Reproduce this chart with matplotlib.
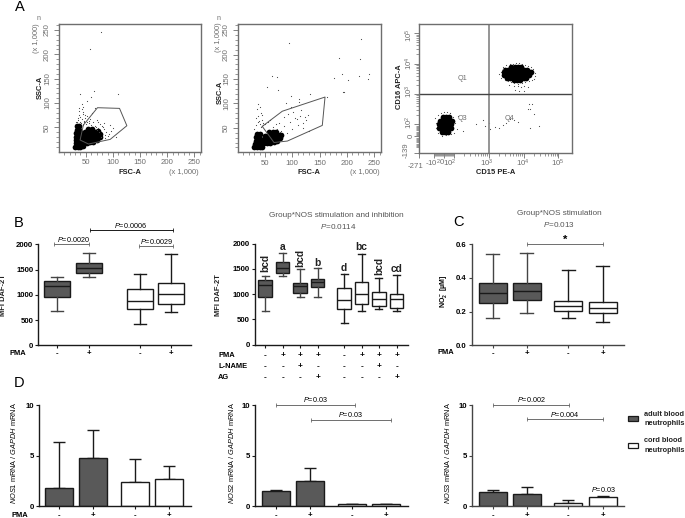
#!/usr/bin/env python3
"""Neutrophil figure: flow plots (A), DAF-2T box plots (B), nitrite (C), NOS mRNA (D)."""

import matplotlib
matplotlib.use('Agg')
import matplotlib.pyplot as plt
from matplotlib.lines import Line2D
from matplotlib.patches import Rectangle

plt.rcParams['font.family'] = ['Liberation Sans', 'DejaVu Sans']
plt.rcParams['mathtext.fontset'] = 'custom'
plt.rcParams['mathtext.rm'] = 'Liberation Sans'
plt.rcParams['mathtext.it'] = 'Liberation Sans:italic'
plt.rcParams['mathtext.bf'] = 'Liberation Sans:bold'

W, H = 685, 518

# --- flow cytometry, panel A ---
a1_core_x = [30, 35, 40, 45, 31, 36, 41, 31, 36, 41, 31, 36, 41, 32, 37, 42, 33, 38, 34, 38,
             46, 52, 58, 64, 70, 46, 52, 58, 64, 70, 76, 47, 53, 59, 65, 71, 76, 48, 54, 60, 66, 72, 54, 61]
a1_core_y = [10, 10, 10, 11, 17, 17, 17, 24, 24, 24, 31, 31, 31, 38, 38, 38, 45, 45, 52, 53,
             20, 18, 19, 20, 24, 27, 26, 26, 27, 30, 30, 34, 34, 34, 34, 36, 36, 41, 41, 41, 41, 42, 46, 46]
a1_dots_x = [32, 36, 40, 44, 38, 42, 46, 34, 48, 37, 41, 45, 50, 52, 56, 60, 64, 68, 72, 76, 80, 84, 88, 92, 96,
             70, 75, 82, 90, 78, 85, 95, 100, 105, 52, 58, 62, 66, 44, 47, 38, 42, 78, 65, 53, 110, 40, 60, 58,
             35, 39, 43, 49, 55, 67, 73, 86, 83, 71]
a1_dots_y = [60, 66, 72, 78, 84, 88, 64, 62, 70, 90, 58, 82, 56, 62, 58, 54, 60, 50, 48, 56, 52, 46, 40, 36, 42,
             66, 40, 50, 32, 30, 28, 55, 48, 30, 74, 68, 80, 90, 92, 60, 75, 98, 245, 125, 105, 118, 118, 112, 210,
             70, 62, 68, 75, 64, 52, 62, 35, 58, 44]
a1_gate_x = [45.5, 71.4, 112, 125.5, 94.8, 54.8, 39.4]
a1_gate_y = [54.8, 90.4, 89, 53.4, 25.3, 15.8, 24]

a2_core_x = [30, 35, 40, 45, 32, 37, 42, 33, 38, 43, 34, 39, 36, 41,
             48, 54, 60, 66, 72, 48, 54, 60, 66, 72, 78, 50, 56, 62, 68, 74, 80, 58, 64, 70]
a2_core_y = [10, 10, 10, 11, 17, 17, 17, 24, 24, 24, 31, 31, 38, 38,
             20, 19, 20, 21, 23, 27, 27, 27, 27, 28, 30, 34, 34, 34, 34, 35, 36, 41, 41, 42]
a2_dots_x = [30, 33, 37, 41, 45, 34, 38, 42, 46, 36, 40, 44, 39, 43, 47, 37, 50, 55, 60, 65, 70, 75,
             80, 85, 90, 95, 100, 105, 110, 115, 120, 125, 130, 84, 92, 101, 108, 116, 123, 119, 88, 97, 112, 128, 72, 78,
             94, 186, 191, 63, 72, 54, 74, 203, 176, 193, 133, 97, 112, 164, 226, 224, 222, 240, 238, 194]
a2_dots_y = [48, 55, 62, 58, 66, 70, 74, 80, 60, 88, 92, 76, 64, 52, 56, 98, 58, 62, 66, 52, 58, 60,
             44, 54, 40, 62, 48, 70, 56, 74, 60, 66, 44, 72, 78, 82, 68, 86, 72, 50, 100, 92, 102, 76, 48, 42,
             224, 192, 161, 157, 153, 133, 128, 147, 152, 124, 120, 115, 108, 113, 231, 191, 156, 161, 150, 124]
a2_gate_x = [45, 81.7, 160, 155, 91, 66.5]
a2_gate_y = [53, 84, 113, 55, 23, 20]

a3_core_x = [4500, 5600, 7000, 8500,
             3000, 3700, 4500, 5600, 7000, 8500, 10500, 12500,
             2700, 3300, 4000, 5000, 6200, 7700, 9500, 11500, 14000, 16000,
             2800, 3500, 4300, 5300, 6500, 8000, 10000, 12000, 14500,
             3400, 4200, 5200, 6400, 8000, 10000, 12000,
             5200, 6400, 8000,
             -10, 20, 50, -40, -10, 20, 50, 80, -50, -20, 10, 40, 70, -50, -20, 10, 40, 70, -20, 10, 40]
a3_core_y = [7800, 7800, 7800, 7800,
             6400, 6400, 6400, 6400, 6400, 6400, 6400, 6400,
             5200, 5200, 5200, 5200, 5200, 5200, 5200, 5200, 5200, 5200,
             4200, 4200, 4200, 4200, 4200, 4200, 4200, 4200, 4200,
             3400, 3400, 3400, 3400, 3400, 3400, 3400,
             2800, 2800, 2800,
             170, 170, 170, 130, 130, 130, 130, 130, 100, 100, 100, 100, 100, 70, 70, 70, 70, 70, 40, 40, 40]
a3_dots_x = [2000, 2200, 2500, 2300, 2600, 3200, 4000, 5000, 6000, 7200, 8800, 11000, 13000, 16000, 19000, 21000,
             22000, 20000, 17000, 14000, 11000, 9000, 7000, 5500, 4500, 3500, 2900, 3800, 5200, 6800, 8200, 10500, 13500,
             7500, 5800, 10000, 14000, 15000,
             -90, -80, -60, -30, 0, 30, 60, 95, 110, 125, 100, 70, 20, -20, -60, -85, 130, 60,
             420, 700, 800, 1000, 1100, 1500, 2000, 2500, 3200, 4200, 5200, 7000, 13000, 17000, 20000, 28000, 15000, 180]
a3_dots_y = [4400, 5500, 6800, 3400, 8000, 8800, 9500, 10000, 10200, 10100, 9600, 8900, 8500, 7500, 6500, 5000,
             3900, 3100, 2900, 2600, 2400, 2300, 2200, 2300, 2500, 2700, 3000, 2000, 1900, 1800, 1700, 1800, 1700,
             1300, 1400, 1250, 460, 320,
             160, 70, 210, 240, 260, 250, 230, 170, 110, 60, 30, 20, 10, 5, 25, 110, 190, 230,
             100, 140, 90, 110, 60, 80, 70, 95, 110, 150, 140, 120, 330, 480, 220, 90, 70, 45]

# --- DAF-2T, panel B ---
b1_low = [673, 1353, 429, 667]
b1_q1 = [950, 1426, 713, 825]
b1_med = [1181, 1525, 884, 1010]
b1_q3 = [1274, 1630, 1122, 1228]
b1_high = [1353, 1822, 1406, 1808]

b2_low = [673, 1353, 937, 950, 429, 667, 713, 660]
b2_q1 = [950, 1426, 1030, 1142, 713, 799, 772, 733]
b2_med = [1181, 1525, 1162, 1247, 884, 997, 911, 898]
b2_q3 = [1274, 1630, 1221, 1307, 1122, 1234, 1043, 1003]
b2_high = [1353, 1822, 1498, 1525, 1406, 1802, 1313, 1386]
b2_letters = ['bcd', 'a', 'bcd', 'b', 'd', 'bc', 'bcd', 'cd']
b2_pma = ['-', '+', '+', '+', '-', '+', '+', '+']
b2_lname = ['-', '-', '+', '-', '-', '-', '+', '-']
b2_ag = ['-', '-', '-', '+', '-', '-', '-', '+']

# --- nitrite, panel C ---
c_low = [0.16, 0.19, 0.16, 0.14]
c_q1 = [0.25, 0.27, 0.205, 0.19]
c_med = [0.31, 0.32, 0.235, 0.22]
c_q3 = [0.37, 0.37, 0.265, 0.26]
c_high = [0.54, 0.55, 0.45, 0.47]

# --- mRNA, panel D ---
d1_mean = [1.78, 4.77, 2.43, 2.7]
d1_upper = [6.38, 7.53, 4.64, 3.98]
d2_mean = [1.55, 2.47, 0.2, 0.23]
d2_upper = [1.6, 3.82, 0.2, 0.23]
d3_mean = [1.38, 1.22, 0.36, 0.89]
d3_upper = [1.58, 1.91, 0.59, 1.05]
pma_signs = ['-', '+', '-', '+']

ADULT = '#595959'
CORD = 'white'
EDGE = '#1a1a1a'
GREY = '#6e6e6e'

fig = plt.figure(figsize=(W / 100, H / 100), dpi=100)


def ax_px(left, top, right, bottom):
    return fig.add_axes([left / W, 1 - bottom / H, (right - left) / W, (bottom - top) / H])


def txt(x, y, s, size=5.5, **kw):
    kw.setdefault('ha', 'center')
    kw.setdefault('va', 'center')
    return fig.text(x / W, 1 - y / H, s, fontsize=size, **kw)


def bracket(x0, x1, y, color=EDGE):
    fig.add_artist(Line2D([x0 / W, x1 / W], [1 - y / H] * 2, color=color, lw=0.7,
                          marker='|', ms=2.5, mew=0.6))


def flow_axes(left, right, bottom):
    ax = ax_px(left, 23.7, right, bottom)
    for s in ax.spines.values():
        s.set_color(GREY)
        s.set_linewidth(1.0)
    ax.tick_params(which='major', length=3.5, width=0.6, color=GREY, labelcolor=GREY, labelsize=5.6, pad=2)
    ax.tick_params(which='minor', length=2, width=0.5, color=GREY)
    return ax


def scatter_linear(left, right, bottom, core_x, core_y, dots_x, dots_y, gate_x, gate_y):
    ax = flow_axes(left, right, bottom)
    ax.scatter(core_x, core_y, s=17, c='black', linewidths=0)
    ax.scatter(dots_x, dots_y, s=0.7, c='#444444', linewidths=0)
    ax.plot(gate_x + gate_x[:1], gate_y + gate_y[:1], color='#555555', lw=0.7)
    ax.set_xlim(0, 262)
    ax.set_ylim(0, 263)
    ticks = [50, 100, 150, 200, 250]
    ax.set_xticks(ticks)
    ax.set_yticks(ticks)
    ax.set_xticks(range(10, 261, 10), minor=True)
    ax.set_yticks(range(10, 261, 10), minor=True)
    plt.setp(ax.get_yticklabels(), rotation=90, va='center')
    return ax


scatter_linear(58.7, 201, 151.7, a1_core_x, a1_core_y, a1_dots_x, a1_dots_y, a1_gate_x, a1_gate_y)
scatter_linear(237.7, 380.7, 152.3, a2_core_x, a2_core_y, a2_dots_x, a2_dots_y, a2_gate_x, a2_gate_y)

# biexponential-looking axes for the CD15/CD16 plot
ax3 = flow_axes(419.3, 572.3, 152.7)
ax3.set_xscale('symlog', linthresh=100, linscale=0.25)
ax3.set_yscale('symlog', linthresh=100, linscale=0.353)
ax3.scatter(a3_core_x, a3_core_y, s=17, c='black', linewidths=0)
ax3.scatter(a3_dots_x, a3_dots_y, s=0.7, c='#444444', linewidths=0)
ax3.axvline(1000, color='#8c8c8c', lw=1.3)
ax3.axhline(1000, color='#444444', lw=1.0)
ax3.set_xlim(-271, 2.5e5)
ax3.set_ylim(-139, 2.05e5)
ax3.set_xticks([-271, -100, 0, 100, 1000, 10000, 100000], labels=[])
ax3.set_yticks([-139, 0, 100, 1000, 10000, 100000], labels=[])
lin_minor = [v for v in range(-90, 100, 10) if v != 0]
log_minor = [m * d for d in (100, 1000, 10000) for m in range(2, 10)]
ax3.set_xticks(lin_minor + log_minor, minor=True, labels=[])
ax3.set_yticks(lin_minor + log_minor, minor=True, labels=[])

for x, y, s in [(415.5, 167, '-271'), (432.5, 163, r'-$10^2$'), (441.5, 163, '0'), (450, 163, r'$10^2$'),
                (486.7, 163, r'$10^3$'), (523, 163, r'$10^4$'), (557.3, 163, r'$10^5$')]:
    txt(x, y, s, size=5.6, color=GREY)
for x, y, s in [(409, 35, r'$10^5$'), (409, 63, r'$10^4$'), (409, 91.7, r'$10^3$'), (409, 122.7, r'$10^2$'),
                (411, 136, '0'), (405.7, 150, '-139')]:
    txt(x, y, s, size=5.6, color=GREY, rotation=90)
for x, y, s in [(462, 78, 'Q1'), (462.7, 118, 'Q3'), (509, 118, 'Q4')]:
    txt(x, y, s, size=5.2, color=GREY)

txt(40, 87, 'SSC-A', size=5.4, weight='bold', rotation=90, color='#222222')
txt(220.7, 92, 'SSC-A', size=5.4, weight='bold', rotation=90, color='#222222')
txt(129.7, 173, 'FSC-A', size=5.4, weight='bold', color='#222222')
txt(308.7, 172, 'FSC-A', size=5.4, weight='bold', color='#222222')
txt(400, 87, 'CD16 APC-A', size=5.4, weight='bold', rotation=90, color='#222222')
txt(495.7, 172, 'CD15 PE-A', size=5.4, weight='bold', color='#222222')
txt(184, 173, '(x 1,000)', size=5.4, color=GREY)
txt(365, 173, '(x 1,000)', size=5.4, color=GREY)
txt(36.7, 38, '(x 1,000)', size=5.4, color=GREY, rotation=90)
txt(218, 37, '(x 1,000)', size=5.4, color=GREY, rotation=90)
txt(38.5, 18.5, 'n', size=5, color=GREY)
txt(219, 19, 'n', size=5, color=GREY)


def plain_axes(left, top, right, bottom, ymax, yticks, ylabels, centres, spine=EDGE):
    ax = ax_px(left, top, right, bottom)
    ax.spines['top'].set_visible(False)
    ax.spines['right'].set_visible(False)
    for s in ('left', 'bottom'):
        ax.spines[s].set_linewidth(1.0)
        ax.spines[s].set_color(spine)
    ax.set_xlim(0, right - left)
    ax.set_ylim(0, ymax)
    ax.set_xticks([c - left for c in centres], labels=[])
    ax.set_yticks(yticks, labels=ylabels)
    ax.tick_params(length=2.4, width=0.8, color=spine, labelsize=5.6, pad=1.2)
    for lab in ax.get_yticklabels():
        lab.set_fontweight('bold')
    return ax


def box_panel(ax, left, centres, width, cap, low, q1, med, q3, high, n_adult):
    stats = [dict(whislo=a, q1=b, med=c, q3=d, whishi=e, fliers=[])
             for a, b, c, d, e in zip(low, q1, med, q3, high)]
    pos = [c - left for c in centres]
    parts = ax.bxp(stats, positions=pos, widths=width, capwidths=cap, showfliers=False, patch_artist=True,
                   manage_ticks=False,
                   boxprops=dict(linewidth=1.0, edgecolor=EDGE),
                   medianprops=dict(linewidth=1.0, color=EDGE),
                   whiskerprops=dict(linewidth=1.0, color=EDGE),
                   capprops=dict(linewidth=1.0, color=EDGE))
    for i, box in enumerate(parts['boxes']):
        box.set_facecolor(ADULT if i < n_adult else CORD)
    for key in ('whiskers', 'caps'):
        for i, line in enumerate(parts[key]):
            line.set_color('#444444' if i < 2 * n_adult else EDGE)


def bar_panel(ax, left, centres, mean, upper, n_adult=2):
    pos = [c - left for c in centres]
    colors = [ADULT] * n_adult + [CORD] * (len(mean) - n_adult)
    lo = [0] * len(mean)
    hi = [u - m for u, m in zip(upper, mean)]
    ax.errorbar(pos, mean, yerr=[lo, hi], fmt='none', ecolor=EDGE, elinewidth=1.0, capsize=4.3, capthick=1.0, zorder=1)
    ax.bar(pos, mean, width=28, color=colors, edgecolor=EDGE, linewidth=1.0, zorder=2)


# panel B, left
b1_pos = [57.3, 88.7, 139.7, 171]
ax = plain_axes(38.3, 244.3, 190.7, 345.3, 2000, [0, 500, 1000, 1500, 2000], ['0', '500', '1000', '1500', '2000'], b1_pos)
box_panel(ax, 38.3, b1_pos, 26, 12, b1_low, b1_q1, b1_med, b1_q3, b1_high, 2)
txt(3.8, 295, 'MFI DAF-2T', size=5.4, rotation=90, weight='bold', color='#222222')
bracket(54.3, 88.7, 244, color=GREY)
bracket(90.3, 172.7, 230)
bracket(138.7, 172.7, 245.7, color=GREY)
txt(73.3, 239.3, r'$\mathit{P}$=0.0020', size=5.2)
txt(130.7, 225, r'$\mathit{P}$=0.0006', size=5.2)
txt(156, 241, r'$\mathit{P}$=0.0029', size=5.2)
txt(9.7, 353.3, 'PMA', size=5.4, weight='bold', ha='left')
for c, s in zip(b1_pos, pma_signs):
    txt(c, 353.8, s, size=5.6, weight='bold')

# panel B, right
b2_pos = [265, 282.7, 300, 317.7, 344, 361.7, 379, 396.7]
ax = plain_axes(255, 243.7, 407.7, 344.7, 2000, [0, 500, 1000, 1500, 2000], ['0', '500', '1000', '1500', '2000'], b2_pos)
box_panel(ax, 255, b2_pos, 13.3, 7, b2_low, b2_q1, b2_med, b2_q3, b2_high, 4)
txt(218.3, 295, 'MFI DAF-2T', size=5.4, rotation=90, weight='bold', color='#222222')
txt(336.7, 215.7, 'Group*NOS stimulation and inhibition', size=5.9, color='#555555')
txt(338, 226.3, r'$\mathit{P}$=0.0114', size=5.9, color='#555555')
b2_letter_y = [263, 247, 258, 262.7, 268, 247, 266, 269]
for c, y, s in zip(b2_pos, b2_letter_y, b2_letters):
    txt(c, y, s, size=7.4, weight='bold', rotation=90 if len(s) == 3 else 0, color='#222222')
for label, y, row in [('PMA', 355.7, b2_pma), ('L-NAME', 366.7, b2_lname), ('AG', 377.3, b2_ag)]:
    txt(218.3, y, label, size=5.4, weight='bold', ha='left')
    for c, s in zip(b2_pos, row):
        txt(c, y, s, size=6, weight='bold')

# panel C
c_pos = [492.7, 526.7, 568.3, 602.7]
ax = plain_axes(471.7, 244.3, 624, 345.3, 0.6, [0, 0.2, 0.4, 0.6], ['0.0', '0.2', '0.4', '0.6'], c_pos, spine='#444444')
box_panel(ax, 471.7, c_pos, 28, 13, c_low, c_q1, c_med, c_q3, c_high, 2)
txt(443.3, 291.7, r'$\mathbf{NO_2^-}$ [µM]', size=5, rotation=90, weight='bold')
txt(559.3, 213.7, 'Group*NOS stimulation', size=5.9, color='#555555')
txt(559.3, 224.3, r'$\mathit{P}$=0.013', size=5.9, color='#555555')
bracket(526.7, 603, 244, color=GREY)
txt(565, 240, '*', size=8, weight='bold')
txt(438, 352, 'PMA', size=5.4, weight='bold', ha='left')
for c, s in zip(c_pos, pma_signs):
    txt(c, 354, s, size=5.6, weight='bold')

# panel D
d_ticks = [0, 5, 10]
d_labels = ['0', '5', '10']
d1_pos = [59, 93.3, 134.7, 169]
d2_pos = [275.7, 310, 351.7, 386]
d3_pos = [492.7, 526.7, 568.3, 602.7]
ax = plain_axes(39, 405, 190.7, 506.3, 10, d_ticks, d_labels, d1_pos)
bar_panel(ax, 39, d1_pos, d1_mean, d1_upper)
ax = plain_axes(255.3, 405, 407.7, 506.3, 10, d_ticks, d_labels, d2_pos)
bar_panel(ax, 255.3, d2_pos, d2_mean, d2_upper)
ax = plain_axes(471.7, 405, 624.3, 506.3, 10, d_ticks, d_labels, d3_pos, spine='#444444')
bar_panel(ax, 471.7, d3_pos, d3_mean, d3_upper)

txt(14, 453, r'$\mathit{NOS1}$ mRNA / $\mathit{GAPDH}$ mRNA', size=5.3, rotation=90)
txt(231, 453, r'$\mathit{NOS2}$ mRNA / $\mathit{GAPDH}$ mRNA', size=5.3, rotation=90)
txt(447.7, 453, r'$\mathit{NOS3}$ mRNA / $\mathit{GAPDH}$ mRNA', size=5.3, rotation=90)

bracket(275.7, 354.7, 404.7, color=GREY)
bracket(311, 390.7, 419.7, color=GREY)
txt(315.7, 399.3, r'$\mathit{P}$=0.03', size=5.2)
txt(350.7, 414.3, r'$\mathit{P}$=0.03', size=5.2)
bracket(493.3, 569, 404.7, color=GREY)
bracket(526.7, 602.7, 419.3, color=GREY)
txt(531.7, 399.7, r'$\mathit{P}$=0.002', size=5.2)
txt(565, 414.3, r'$\mathit{P}$=0.004', size=5.2)
txt(603, 490, r'$\mathit{P}$=0.03', size=5.2)

txt(11, 515.3, 'PMA', size=5.4, weight='bold', ha='left')
for row in (d1_pos, d2_pos, d3_pos):
    for c, s in zip(row, pma_signs):
        txt(c, 515.5, s, size=5.6, weight='bold')

# legend
for y, col in [(416.3, ADULT), (443.3, CORD)]:
    fig.add_artist(Rectangle((627.7 / W, 1 - (y + 5) / H), 10.6 / W, 5 / H, facecolor=col,
                             edgecolor=EDGE, linewidth=0.9, transform=fig.transFigure))
for y, s in [(414, 'adult blood'), (423.3, 'neutrophils'), (441, 'cord blood'), (450, 'neutrophils')]:
    txt(644.3, y, s, size=5.3, weight='bold', ha='left', color='#222222')

# panel letters
for x, y, s in [(20, 7, 'A'), (18.3, 222.7, 'B'), (458, 221.7, 'C'), (19, 383, 'D')]:
    txt(x, y, s, size=10.5)

fig.savefig('out.png', dpi=100)
